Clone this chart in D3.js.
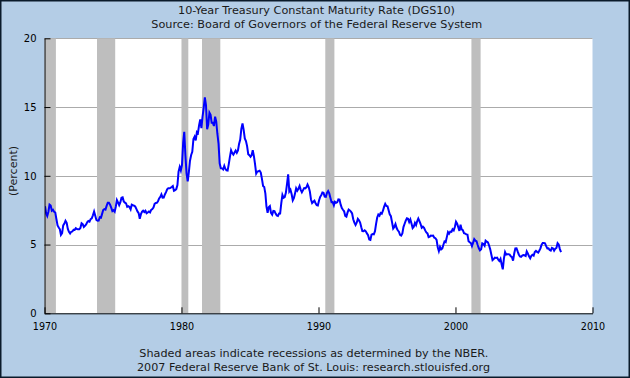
<!DOCTYPE html>
<html><head><meta charset="utf-8">
<script src="https://cdn.jsdelivr.net/npm/d3@7"></script>
<style>html,body{margin:0;padding:0;background:#b4cde6;} svg{display:block}</style>
</head><body>
<svg id="c" width="630" height="378"></svg>
<script>
// Monthly 10-year Treasury constant maturity rate, starting January 1970
const startYear = 1970;
const rates = [
 7.79,7.24,7.07,7.39,7.91,7.84,7.46,7.53,7.39,7.33,6.84,6.39,
 6.24,6.11,5.70,5.83,6.39,6.52,6.73,6.58,6.14,5.93,5.81,5.93,
 5.95,6.08,6.07,6.19,6.13,6.11,6.11,6.21,6.55,6.48,6.28,6.36,
 6.46,6.64,6.71,6.67,6.85,6.90,7.13,7.40,7.09,6.79,6.73,6.74,
 6.99,6.96,7.21,7.51,7.58,7.54,7.81,8.04,8.04,7.90,7.68,7.43,
 7.50,7.39,7.73,8.23,8.06,7.86,8.06,8.40,8.43,8.14,8.05,8.00,
 7.74,7.79,7.73,7.56,7.90,7.86,7.83,7.77,7.59,7.41,7.29,6.87,
 7.21,7.39,7.46,7.37,7.46,7.28,7.33,7.40,7.34,7.52,7.58,7.69,
 7.96,8.03,8.04,8.15,8.35,8.46,8.64,8.41,8.42,8.64,8.81,9.01,
 9.10,9.10,9.12,9.18,9.25,8.91,8.95,9.03,9.33,10.30,10.65,10.39,
 10.80,12.41,13.20,11.47,10.18,9.60,10.25,11.10,11.51,11.75,12.68,12.84,
 12.57,13.19,13.12,13.68,14.10,13.47,14.28,14.94,15.70,15.15,13.39,13.72,
 14.59,14.43,13.86,13.87,13.62,14.30,13.95,13.06,12.34,10.91,10.55,10.54,
 10.46,10.72,10.51,10.40,10.38,10.85,11.38,11.85,11.65,11.54,11.69,11.83,
 11.67,11.84,12.32,12.63,13.41,13.80,13.36,12.72,12.52,12.16,11.57,11.50,
 11.38,11.51,11.86,11.43,10.85,10.16,10.31,10.33,10.37,10.24,9.78,9.26,
 9.19,8.70,7.78,7.30,7.71,7.80,7.30,7.17,7.45,7.43,7.25,7.11,
 7.08,7.25,7.25,8.02,8.61,8.40,8.45,8.76,9.42,10.10,8.86,8.99,
 8.67,8.21,8.37,8.72,9.09,8.92,9.06,9.26,8.98,8.80,8.96,9.11,
 9.09,9.17,9.36,9.18,8.86,8.28,8.02,8.11,8.19,8.01,7.87,7.84,
 8.21,8.47,8.59,8.79,8.76,8.48,8.47,8.75,8.89,8.72,8.39,8.08,
 8.09,7.85,8.11,8.04,8.07,8.28,8.27,7.90,7.65,7.53,7.42,7.09,
 7.03,7.34,7.54,7.48,7.39,7.26,6.84,6.59,6.42,6.59,6.87,6.77,
 6.60,6.26,5.98,5.97,6.04,5.96,5.81,5.68,5.36,5.33,5.72,5.77,
 5.75,5.97,6.48,6.97,7.18,7.10,7.30,7.24,7.46,7.74,7.96,7.81,
 7.78,7.47,7.20,7.06,6.63,6.17,6.28,6.49,6.20,6.04,5.93,5.71,
 5.65,5.81,6.27,6.51,6.74,6.91,6.87,6.64,6.83,6.53,6.20,6.30,
 6.58,6.42,6.69,6.89,6.71,6.49,6.22,6.30,6.21,6.03,5.88,5.81,
 5.54,5.57,5.65,5.64,5.65,5.50,5.46,5.34,4.81,4.53,4.83,4.65,
 4.72,5.00,5.23,5.18,5.54,5.90,5.79,5.94,5.92,6.11,6.03,6.28,
 6.66,6.52,6.26,5.99,6.44,6.10,6.05,5.83,5.80,5.74,5.72,5.24,
 5.16,5.10,4.89,5.14,5.39,5.28,5.24,4.97,4.73,4.57,4.65,5.09,
 5.04,4.91,5.28,5.21,5.16,4.93,4.65,4.26,3.87,3.94,4.05,4.03,
 4.05,3.90,3.81,3.96,3.57,3.20,3.98,4.45,4.27,4.29,4.30,4.27,
 4.15,4.08,3.83,4.35,4.72,4.73,4.50,4.28,4.13,4.10,4.19,4.23,
 4.22,4.17,4.50,4.34,4.14,4.00,4.18,4.26,4.20,4.46,4.54,4.47,
 4.42,4.57,4.72,4.99,5.11,5.11,5.09,4.88,4.72,4.73,4.60,4.56,
 4.76,4.72,4.56,4.69,4.75,5.10,5.00,4.67,4.45
];
const recessionStarts = ["1969-12-01","1973-11-01","1980-01-01","1981-07-01","1990-07-01","2001-03-01"];
const recessionEnds   = ["1970-11-01","1975-03-01","1980-07-01","1982-11-01","1991-03-01","2001-11-01"];
const yTicks = [0,5,10,15,20];
const xTicks = [1970,1980,1990,2000,2010];
const titleLines = ["10-Year Treasury Constant Maturity Rate (DGS10)","Source: Board of Governors of the Federal Reserve System"];
const footLines = ["Shaded areas indicate recessions as determined by the NBER.","2007 Federal Reserve Bank of St. Louis: research.stlouisfed.org"];
const yLabel = "(Percent)";

const W = 630, H = 378;
const L = 44.5, R = 592.5, T = 38.3, B = 313.3;
const svg = d3.select("#c");
const font = "'DejaVu Sans', Verdana, sans-serif";

svg.append("rect").attr("x",0.75).attr("y",0.75).attr("width",W-1.5).attr("height",H-1.5)
  .attr("fill","#b4cde6").attr("stroke","#0a1a2a").attr("stroke-width",1.5);

const x = d3.scaleTime().domain([new Date(1970,0,1), new Date(2010,0,1)]).range([L,R]);
const y = d3.scaleLinear().domain([0,20]).range([B,T]);

svg.append("rect").attr("x",L).attr("y",T).attr("width",R-L).attr("height",B-T).attr("fill","#fff");

svg.append("defs").append("clipPath").attr("id","clip")
  .append("rect").attr("x",L+0.5).attr("y",T).attr("width",R-L-0.5).attr("height",B-T);

// grid
svg.append("g").selectAll("line").data(yTicks.filter(d=>d>0)).join("line")
  .attr("x1",L).attr("x2",R).attr("y1",d=>Math.round(y(d))+0.5).attr("y2",d=>Math.round(y(d))+0.5)
  .attr("stroke","#ababab").attr("stroke-width",1);

// recessions
const rec = recessionStarts.map((s,i)=>({s:new Date(s), e:new Date(recessionEnds[i])}));
svg.append("g").attr("clip-path","url(#clip)").selectAll("rect").data(rec).join("rect")
  .attr("x",d=>x(d.s)).attr("width",d=>x(d.e)-x(d.s)).attr("y",T).attr("height",B-T)
  .attr("fill","#bebebe");

// line
const data = rates.map((v,i)=>({d:new Date(startYear, i, 15), v}));
svg.append("path").datum(data).attr("clip-path","url(#clip)")
  .attr("fill","none").attr("stroke","#0000ff").attr("stroke-width",2).attr("stroke-linejoin","miter")
  .attr("d", d3.line().x(d=>x(d.d)).y(d=>y(d.v)));

// axes
const yAxis = d3.axisLeft(y).tickValues(yTicks).tickSizeInner(-6).tickSizeOuter(0).tickPadding(8);
const gy = svg.append("g").attr("transform",`translate(${L},0)`).call(yAxis);
gy.select(".domain").attr("stroke","#000");
gy.selectAll(".tick line").attr("stroke","#000");
gy.selectAll("text").attr("font-family",font).attr("font-size",10).attr("fill","#000");

const xAxis = d3.axisBottom(x).tickValues(xTicks.map(t=>new Date(t,0,1))).tickFormat(d3.timeFormat("%Y"))
  .tickSizeInner(-6).tickSizeOuter(0).tickPadding(10);
const gx = svg.append("g").attr("transform",`translate(0,${B})`).call(xAxis);
gx.select(".domain").attr("stroke","#000");
gx.selectAll(".tick line").attr("stroke","#000");
gx.selectAll("text").attr("font-family",font).attr("font-size",9.6).attr("fill","#000");

// titles
const tl = svg.append("g").attr("font-family",font).attr("fill","#1a1a1a").attr("text-anchor","middle");
tl.append("text").attr("x",316.5).attr("y",14).attr("font-size",10.5).attr("textLength",277).attr("lengthAdjust","spacingAndGlyphs").text(titleLines[0]);
tl.append("text").attr("x",316.8).attr("y",27.5).attr("font-size",10.5).attr("textLength",331).attr("lengthAdjust","spacingAndGlyphs").text(titleLines[1]);
tl.append("text").attr("x",313.8).attr("y",357).attr("font-size",10.5).attr("textLength",349).attr("lengthAdjust","spacingAndGlyphs").text(footLines[0]);
tl.append("text").attr("x",313.5).attr("y",371).attr("font-size",10.5).attr("textLength",353).attr("lengthAdjust","spacingAndGlyphs").text(footLines[1]);

svg.append("text").attr("transform",`translate(16.5,171) rotate(-90)`).attr("text-anchor","middle")
  .attr("font-family",font).attr("font-size",11).attr("fill","#1a1a1a").text(yLabel);
</script>
</body></html>
